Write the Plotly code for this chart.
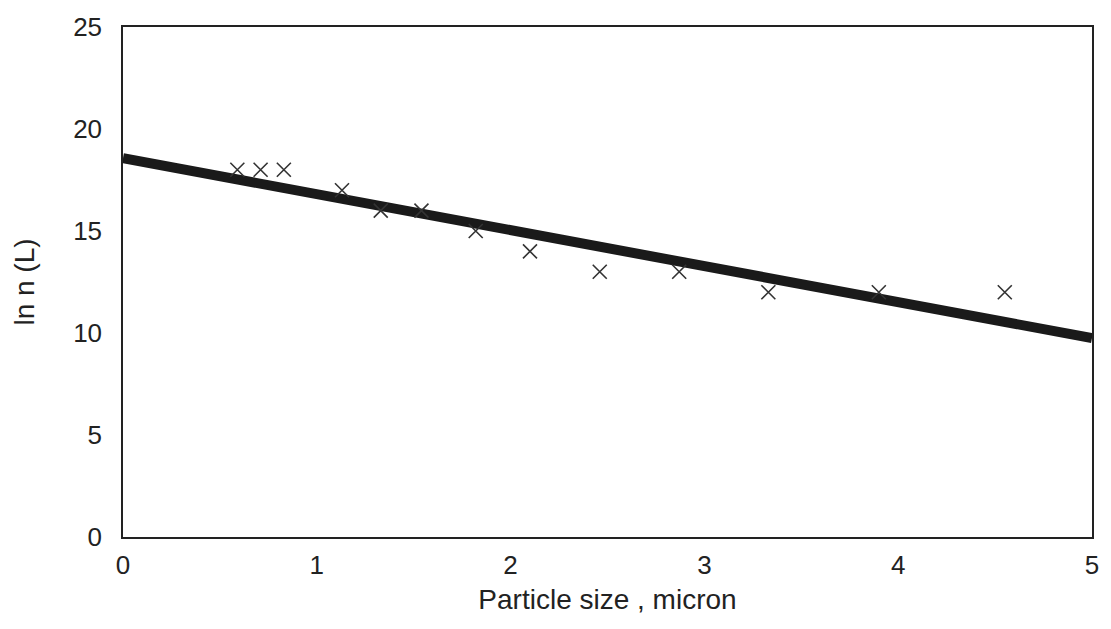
import plotly.graph_objects as go

size_um = [0.59, 0.71, 0.83, 1.13, 1.33, 1.54, 1.82, 2.10, 2.46, 2.87, 3.33, 3.90, 4.55]
ln_n = [18, 18, 18, 17, 16, 16, 15, 14, 13, 13, 12, 12, 12]
fit_x = [0, 5]
fit_y = [18.57, 9.75]

fig = go.Figure()
fig.add_trace(go.Scatter(x=fit_x, y=fit_y, mode="lines",
                         line=dict(color="#1a1a1a", width=10), showlegend=False))
fig.add_trace(go.Scatter(x=size_um, y=ln_n, mode="markers",
                         marker=dict(symbol="x-thin-open", size=14, color="#333333",
                                     line=dict(color="#333333", width=1.6)),
                         showlegend=False))

tick_font = dict(family="Liberation Sans, Arial, sans-serif", size=26, color="#222222")
title_font = dict(family="Liberation Sans, Arial, sans-serif", size=28, color="#222222")
fig.update_layout(
    width=1111, height=629,
    margin=dict(l=123, r=19, t=20, b=92),
    paper_bgcolor="white", plot_bgcolor="white",
    font=tick_font,
    xaxis=dict(range=[0, 5], dtick=1, showgrid=False, zeroline=False,
               showline=True, linecolor="#222222", linewidth=1.5, mirror=True,
               ticks="", tickfont=tick_font, ticklabelstandoff=4,
               title=dict(text="Particle size , micron", font=title_font, standoff=10)),
    yaxis=dict(range=[0, 25], dtick=5, showgrid=False, zeroline=False,
               showline=True, linecolor="#222222", linewidth=1.5, mirror=True,
               ticks="", tickfont=tick_font, ticklabelstandoff=14,
               title=dict(text="ln n (L)", font=title_font, standoff=30)),
)
fig.write_html("out.html")
